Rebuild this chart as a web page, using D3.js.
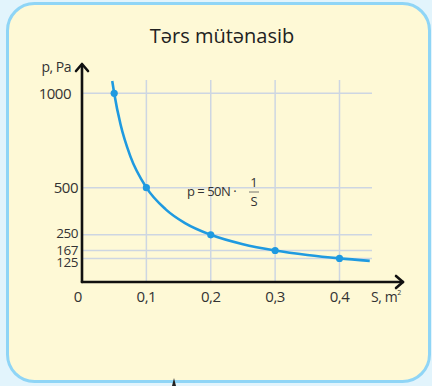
<!DOCTYPE html>
<html>
<head>
<meta charset="utf-8">
<script src="https://cdn.jsdelivr.net/npm/d3@7"></script>
<style>
  html, body { margin: 0; padding: 0; background: #e2f4fc; }
  svg { display: block; font-family: "Open Sans", "Noto Sans", sans-serif; }
</style>
</head>
<body>
<div id="chart"></div>
<script>
// data
const title = 'Tərs mütənasib'
const xTicks = [0.1, 0.2, 0.3, 0.4]
const xTickLabels = ['0,1', '0,2', '0,3', '0,4']
const yTicks = [125, 167, 250, 500, 1000]
const pointS = [0.05, 0.1, 0.2, 0.3, 0.4]
const pointP = [1000, 500, 250, 167, 125]
// curve as traced (incl. ends beyond the marked points)
const curveS = [0.047, 0.05, 0.06, 0.075, 0.1, 0.13, 0.16, 0.2, 0.25, 0.3, 0.35, 0.4, 0.447]
const curveP = [1065, 1000, 833, 667, 500, 385, 312, 250, 200, 167, 143, 125, 112]

const W = 432, H = 386

const svg = d3.select('#chart')
    .append('svg')
    .attr('width', W)
    .attr('height', H)

// card
svg.append('rect')
    .attr('x', 7.5).attr('y', 3.5)
    .attr('width', 422).attr('height', 378)
    .attr('rx', 27).attr('ry', 27)
    .attr('fill', '#fef9d6')
    .attr('stroke', '#8fd5f6')
    .attr('stroke-width', 3)

svg.append('text')
    .attr('x', 222).attr('y', 43)
    .attr('text-anchor', 'middle')
    .attr('font-size', 20)
    .attr('fill', '#222')
    .text(title)

// Scales
const x = d3.scaleLinear().domain([0, 0.4]).range([82, 339.5])
const y = d3.scaleLinear().domain([0, 1000]).range([282, 93.3])

// grid
const grid = svg.append('g')
    .attr('stroke', '#cdd6e2')
    .attr('stroke-width', 1.5)

grid.selectAll('line.v')
    .data(xTicks).enter()
    .append('line')
    .attr('x1', d => x(d)).attr('x2', d => x(d))
    .attr('y1', 80).attr('y2', y(0))

grid.selectAll('line.h')
    .data(yTicks).enter()
    .append('line')
    .attr('x1', x(0)).attr('x2', 372)
    .attr('y1', d => y(d)).attr('y2', d => y(d))

// curve
const pts = curveS.map((s, i) => [s, curveP[i]])
const line = d3.line()
    .x(d => x(d[0]))
    .y(d => y(d[1]))
    .curve(d3.curveMonotoneX)

svg.append('path')
    .datum(pts)
    .attr('d', line)
    .attr('fill', 'none')
    .attr('stroke', '#1f9ae0')
    .attr('stroke-width', 2.6)

svg.selectAll('circle.pt')
    .data(pointS.map((s, i) => [s, pointP[i]])).enter()
    .append('circle')
    .attr('cx', d => x(d[0]))
    .attr('cy', d => y(d[1]))
    .attr('r', 3.6)
    .attr('fill', '#1f9ae0')

// axes with arrows
const ax = svg.append('g')
    .attr('stroke', '#111')
    .attr('stroke-width', 2.6)
    .attr('fill', 'none')
    .attr('stroke-linecap', 'round')
    .attr('stroke-linejoin', 'round')

ax.append('path').attr('d', `M${x(0)},${y(0)} V65`)
ax.append('path').attr('d', `M${x(0) - 6},71 L${x(0)},64 L${x(0) + 6},71`)
ax.append('path').attr('d', `M${x(0)},${y(0)} H403`)
ax.append('path').attr('d', `M396,${y(0) - 6} L403,${y(0)} L396,${y(0) + 6}`)

// tick labels
const lab = svg.append('g')
    .attr('font-size', 15)
    .attr('fill', '#333')

lab.selectAll('text.y')
    .data(yTicks).enter()
    .append('text')
    .attr('x', d => d === 1000 ? 71 : 78)
    .attr('y', d => y(d) + (d === 125 ? 4 : d === 250 ? -2 : 0))
    .attr('dy', '0.35em')
    .attr('text-anchor', 'end')
    .attr('font-size', d => d < 300 ? 13.5 : 15)
    .attr('letter-spacing', -0.5)
    .text(d => d)

lab.selectAll('text.x')
    .data(xTicks).enter()
    .append('text')
    .attr('x', d => x(d))
    .attr('y', 297)
    .attr('dy', '0.35em')
    .attr('text-anchor', 'middle')
    .attr('letter-spacing', -0.5)
    .text((d, i) => xTickLabels[i])

lab.append('text')
    .attr('x', 78).attr('y', 297).attr('dy', '0.35em')
    .attr('text-anchor', 'middle')
    .text('0')

lab.append('text')
    .attr('x', 71).attr('y', 72)
    .attr('text-anchor', 'end')
    .attr('font-size', 14)
    .attr('letter-spacing', -0.5)
    .text('p, Pa')

const sl = lab.append('text')
    .attr('x', 371).attr('y', 302)
    .attr('font-size', 14)
    .attr('letter-spacing', -0.4)
sl.append('tspan').text('S, m')
sl.append('tspan').attr('font-size', 7).attr('dy', -7).text('2')

// formula
const f = svg.append('g')
    .attr('font-size', 13)
    .attr('fill', '#333')
f.append('text').attr('x', 187).attr('y', 196).attr('letter-spacing', -0.5).text('p = 50N ·')
f.append('text').attr('x', 254).attr('y', 187).attr('text-anchor', 'middle').text('1')
f.append('line')
    .attr('x1', 249).attr('x2', 259)
    .attr('y1', 192).attr('y2', 192)
    .attr('stroke', '#555').attr('stroke-width', 0.8)
f.append('text').attr('x', 254).attr('y', 206).attr('text-anchor', 'middle').text('S')

// small mark on bottom border
svg.append('path')
    .attr('d', 'M172,386 L174,378 L176,386 Z')
    .attr('fill', '#222')
</script>
</body>
</html>
